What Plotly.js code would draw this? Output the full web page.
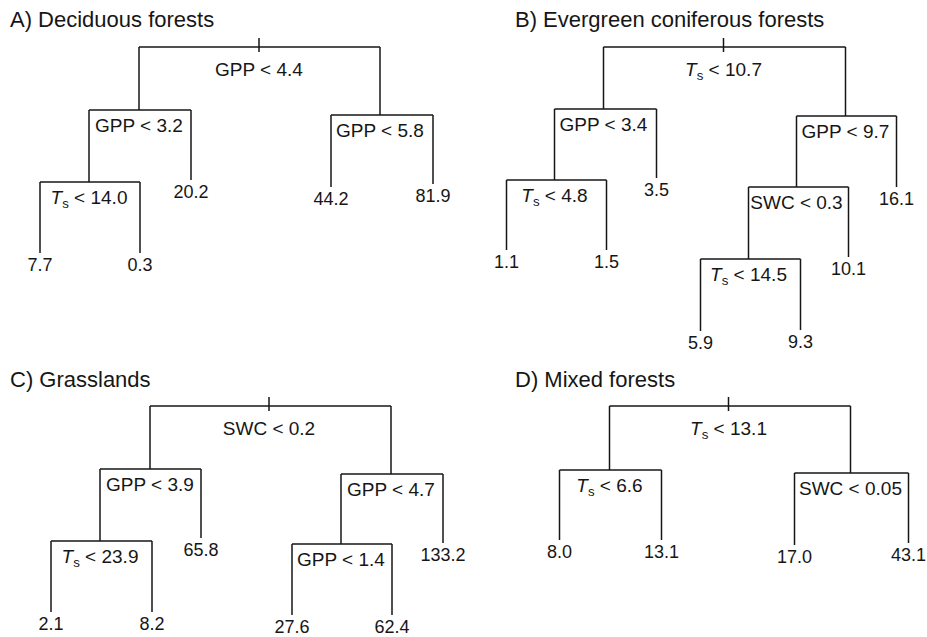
<!DOCTYPE html>
<html>
<head>
<meta charset="utf-8">
<script src="https://cdn.plot.ly/plotly-3.0.1.min.js"></script>
<style>html,body{margin:0;padding:0;background:#fff;}#chart{width:927px;height:637px;}</style>
</head>
<body>
<div id="chart"></div>
<script>
// Panel titles
const panelTitles = ["A) Deciduous forests", "B) Evergreen coniferous forests", "C) Grasslands", "D) Mixed forests"];

// A) Deciduous forests: node labels (splits / leaf means), parent index, tree layout coords
const aLabels = ["GPP < 4.4", "GPP < 3.2", "Ts < 14.0", "7.7", "0.3", "20.2", "GPP < 5.8", "44.2", "81.9"];
const aParent = [-1, 0, 1, 2, 2, 1, 0, 6, 6];
const aX = [259, 139, 89, 40, 140, 191, 380, 331, 433];
const aY = [47, 110, 182, 253, 253, 180, 115, 187, 184];

// B) Evergreen coniferous forests
const bLabels = ["Ts < 10.7", "GPP < 3.4", "Ts < 4.8", "1.1", "1.5", "3.5", "GPP < 9.7", "SWC < 0.3", "Ts < 14.5", "5.9", "9.3", "10.1", "16.1"];
const bParent = [-1, 0, 1, 2, 2, 1, 0, 6, 7, 8, 8, 7, 6];
const bX = [260, 140, 91, 43, 143, 193, 382, 333, 285, 237, 337, 385, 433];
const bY = [47, 109, 180, 250, 250, 178, 116, 187, 259, 331, 330, 257, 187];

// C) Grasslands
const cLabels = ["SWC < 0.2", "GPP < 3.9", "Ts < 23.9", "2.1", "8.2", "65.8", "GPP < 4.7", "GPP < 1.4", "27.6", "62.4", "133.2"];
const cParent = [-1, 0, 1, 2, 2, 1, 0, 6, 7, 7, 6];
const cX = [269, 150, 100, 51, 152, 201, 391, 341, 292, 392, 443];
const cY = [46, 109, 181, 252, 252, 178, 114, 184, 255, 255, 183];

// D) Mixed forests
const dLabels = ["Ts < 13.1", "Ts < 6.6", "8.0", "13.1", "SWC < 0.05", "17.0", "43.1"];
const dParent = [-1, 0, 1, 1, 0, 4, 4];
const dX = [265, 146, 96, 198, 387, 331, 445];
const dY = [46, 110, 180, 180, 113, 185, 183];

const panels = [
  {labels: aLabels, parent: aParent, x: aX, y: aY},
  {labels: bLabels, parent: bParent, x: bX, y: bY},
  {labels: cLabels, parent: cParent, x: cX, y: cY},
  {labels: dLabels, parent: dParent, x: dX, y: dY}
];

const FONT = "Liberation Sans, Arial, Helvetica, sans-serif";
const INK = "#161616";

function fmt(s) {
  return s.replace(/</g, "&lt;").replace(/^Ts /, "<i>T</i><sub>s</sub> ");
}

const traces = [];
const annotations = [];
panels.forEach((p, k) => {
  const xa = k === 0 ? "x" : "x" + (k + 1);
  const ya = k === 0 ? "y" : "y" + (k + 1);
  const n = p.labels.length;
  const children = Array.from({length: n}, () => []);
  p.parent.forEach((par, i) => { if (par >= 0) children[par].push(i); });
  const lx = [], ly = [];
  for (let i = 0; i < n; i++) {
    const par = p.parent[i];
    if (par >= 0) { lx.push(p.x[i], p.x[i], null); ly.push(p.y[par], p.y[i], null); }
    if (children[i].length) {
      const cx = children[i].map(c => p.x[c]);
      lx.push(Math.min(...cx), Math.max(...cx), null); ly.push(p.y[i], p.y[i], null);
    }
    if (par < 0) { lx.push(p.x[i], p.x[i], null); ly.push(p.y[i] - 9, p.y[i] + 5, null); }
  }
  traces.push({type: "scatter", mode: "lines", x: lx, y: ly, xaxis: xa, yaxis: ya,
    line: {color: INK, width: 1.5}, hoverinfo: "skip"});
  const sx = [], sy = [], st = [];
  const tx = [], ty = [], tt = [];
  for (let i = 0; i < n; i++) {
    if (children[i].length) {
      sx.push(p.x[i]); sy.push(p.y[i] + (p.parent[i] < 0 ? 24 : 17)); st.push(fmt(p.labels[i]));
    } else {
      tx.push(p.x[i]); ty.push(p.y[i] + 13); tt.push(p.labels[i]);
    }
  }
  traces.push({type: "scatter", mode: "text", x: sx, y: sy, text: st, xaxis: xa, yaxis: ya,
    textposition: "middle center", cliponaxis: false, hoverinfo: "skip",
    textfont: {family: FONT, size: 19, color: INK}});
  traces.push({type: "scatter", mode: "text", x: tx, y: ty, text: tt, xaxis: xa, yaxis: ya,
    textposition: "middle center", cliponaxis: false, hoverinfo: "skip",
    textfont: {family: FONT, size: 18, color: INK}});
  annotations.push({xref: xa, yref: ya, x: (k % 2 === 0 ? 8 : 49), y: 19, xanchor: "left", yanchor: "middle",
    text: panelTitles[k], showarrow: false, font: {family: FONT, size: 22, color: INK}});
});

const topDom = [1 - 360 / 637, 1], botDom = [0, 1 - 360 / 637];
const ax = (dom, rng) => ({domain: dom, range: rng, visible: false, fixedrange: true, showgrid: false, zeroline: false});
const layout = {
  width: 927, height: 637, margin: {l: 0, r: 0, t: 0, b: 0},
  paper_bgcolor: "#fff", plot_bgcolor: "#fff", showlegend: false,
  xaxis: Object.assign(ax([0, 0.5], [0, 463.5]), {anchor: "y"}),
  yaxis: Object.assign(ax(topDom, [360, 0]), {anchor: "x"}),
  xaxis2: Object.assign(ax([0.5, 1], [0, 463.5]), {anchor: "y2"}),
  yaxis2: Object.assign(ax(topDom, [360, 0]), {anchor: "x2"}),
  xaxis3: Object.assign(ax([0, 0.5], [0, 463.5]), {anchor: "y3"}),
  yaxis3: Object.assign(ax(botDom, [277, 0]), {anchor: "x3"}),
  xaxis4: Object.assign(ax([0.5, 1], [0, 463.5]), {anchor: "y4"}),
  yaxis4: Object.assign(ax(botDom, [277, 0]), {anchor: "x4"}),
  annotations: annotations
};
Plotly.newPlot("chart", traces, layout, {staticPlot: true, displayModeBar: false});
</script>
</body>
</html>
